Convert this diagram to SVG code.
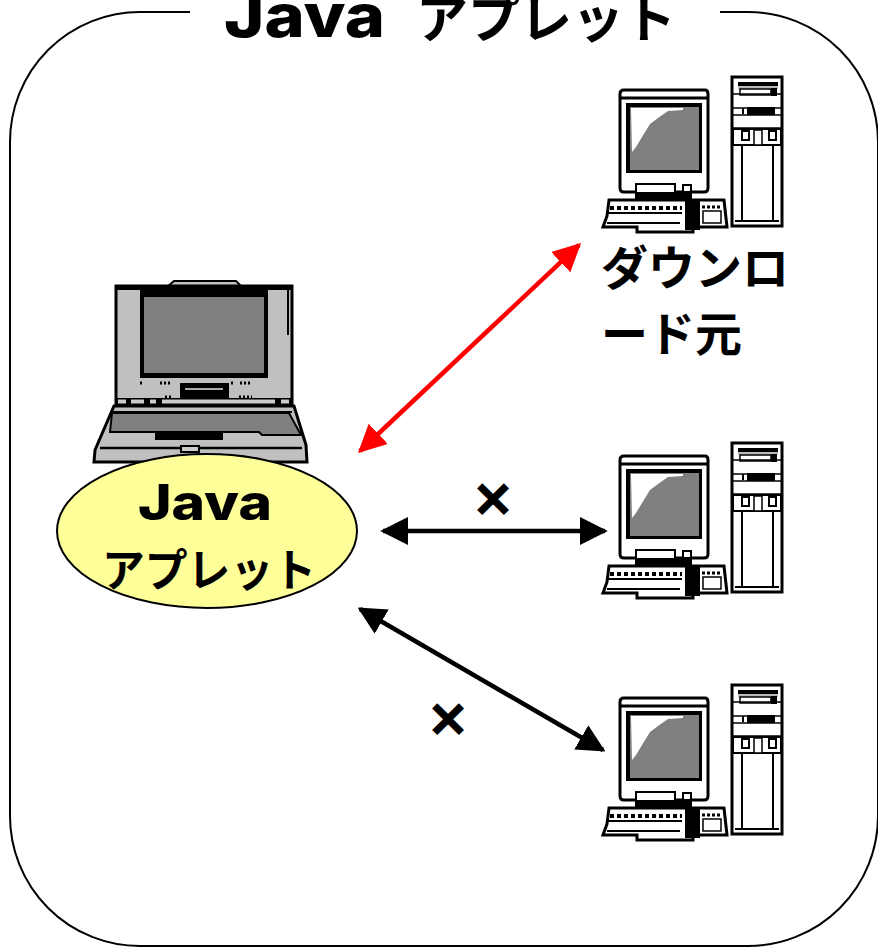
<svg xmlns="http://www.w3.org/2000/svg" width="878" height="948" viewBox="0 0 878 948">
<style>
text{font-family:"Noto Sans CJK JP",sans-serif;font-weight:700;fill:#000}
.lat{font-family:Inter,"DejaVu Sans",sans-serif;font-weight:800}
.x{stroke:#000;stroke-width:3}
.s{stroke:#000;stroke-width:3;fill:#fff}
.t{stroke:#000;stroke-width:2;fill:none}
.c{stroke-width:4.500;fill:none}
</style>
<defs>
<filter id="soft" x="-5%" y="-5%" width="110%" height="110%"><feGaussianBlur stdDeviation="0.6"/></filter>
<marker id="ak" viewBox="0 0 10 10" refX="9" refY="5" markerWidth="6.2" markerHeight="6.2" orient="auto-start-reverse"><path d="M0 0L10 5L0 10Z" fill="#000"/></marker>
<marker id="ar" viewBox="0 0 10 10" refX="9" refY="5" markerWidth="6.2" markerHeight="6.2" orient="auto-start-reverse"><path d="M0 0L10 5L0 10Z" fill="#f00"/></marker>
<g id="pc" filter="url(#soft)">
<rect class="s" x="732" y="77" width="50" height="149"/>
<rect x="738" y="82" width="40" height="4" fill="#000"/><rect x="738" y="86" width="40" height="3" fill="#bbb"/>
<rect x="740" y="89" width="31" height="6" fill="#fff" stroke="#000" stroke-width="1.500"/><rect x="771" y="88" width="6" height="8" fill="#000"/>
<path d="M733 94H781M733 108H781M733 115H781M733 128H781" class="t" style="stroke-width:1.500"/>
<rect x="747" y="107" width="28" height="8" fill="#000"/><rect x="742" y="108" width="2" height="6" fill="#000"/>
<path d="M733 129H781V145H733Z" fill="#fff" stroke="#000" stroke-width="2"/>
<path d="M742 131H749V140H742ZM769 131H776V140H769Z" fill="#fff" stroke="#000" stroke-width="2"/><path d="M754 130H762V145H754Z" fill="#fff" stroke="#000" stroke-width="1.500"/>
<path d="M742 145V221M773 145V221M735 221H779" class="t"/>
<path d="M620 94Q620 90 624 90H705Q708 90 708 94V188Q708 192 704 192H624Q620 192 620 188Z" class="s"/>
<path d="M620 98H708" stroke="#000" stroke-width="3"/>
<rect x="626" y="103" width="76" height="70" fill="#000"/>
<rect x="630" y="107" width="69" height="63" fill="#808080"/>
<path d="M631 108H683V110L668 111L658 118L650 124L642 137L636 147L632 152Z" fill="#fff"/>
<path d="M636 184H675V193H636Z" fill="#fff" stroke="#000" stroke-width="2"/><rect x="683" y="185" width="8" height="7" fill="#fff" stroke="#000" stroke-width="2"/>
<rect x="635" y="193" width="57" height="6" fill="#000"/>
<path d="M609 200H724L727 227H693V232H637V227H603L607 216Z" fill="#fff" stroke="#000" stroke-width="3"/>
<path d="M610 208H682" stroke="#000" stroke-width="4" stroke-dasharray="4 3" fill="none"/>
<path d="M607 223H680M608 213H682" class="t"/>
<rect x="685" y="201" width="15" height="29" fill="#000"/>
<path d="M702 207H722" stroke="#000" stroke-width="3" stroke-dasharray="3 2"/>
<rect x="703" y="211" width="18" height="12" fill="#fff" stroke="#000" stroke-width="1.500"/>
</g>
</defs>
<path d="M190 12H140A130 130 0 0 0 10 142V816A130 130 0 0 0 140 946H748A130 130 0 0 0 878 816V142A130 130 0 0 0 748 12H720" fill="none" stroke="#000" stroke-width="2"/>
<text id="title" class="lat" x="224" y="37" font-size="60" textLength="161" lengthAdjust="spacingAndGlyphs">Java</text>
<text id="title-kana" x="416" y="38" font-size="52">アプレット</text>
<g id="server-1"><use href="#pc"/></g>
<g id="server-2"><use href="#pc" y="366"/></g>
<g id="server-3"><use href="#pc" y="608"/></g>
<g id="laptop" filter="url(#soft)">
<path d="M167 287L174 281H236L242 287Z" fill="#c0c0c0" stroke="#000" stroke-width="2"/>
<rect x="116" y="286" width="176" height="120" fill="#c0c0c0" stroke="#000" stroke-width="3"/>
<rect x="116" y="286" width="176" height="4" fill="#000"/>
<path d="M288 288V335" stroke="#000" stroke-width="2"/>
<rect x="140" y="288" width="128" height="90" fill="#000"/>
<rect x="144" y="297" width="120" height="76" fill="#808080"/>
<rect x="180" y="383" width="49" height="15" fill="#000"/><rect x="185" y="388" width="38" height="2" fill="#aaa"/>
<path d="M140 383H142M160 383H170M231 383H233M240 383H252M165 397H172M239 397H252" stroke="#000" stroke-width="3" stroke-dasharray="2 2" fill="none"/>
<rect x="116" y="398" width="176" height="8" fill="#000"/><path d="M118 401.500H126M131 401.500H144M150 401.500H156M162 401.500H275M281 401.500H289" stroke="#ccc" stroke-width="4"/>
<path d="M114 406H294L306 445L307 462H94L95 450Z" fill="#c0c0c0" stroke="#000" stroke-width="3"/>
<path d="M112 412H292" stroke="#000" stroke-width="2"/>
<path d="M112 413H289L301 435H262L259 432H110Z" fill="#808080" stroke="#000" stroke-width="2"/>
<rect x="155" y="433" width="68" height="7" fill="#000"/>
<path d="M100 448H302" stroke="#000" stroke-width="2.500"/><rect x="181" y="446" width="18" height="6" fill="#ccc" stroke="#000" stroke-width="2"/>
</g>
<g id="applet">
<ellipse cx="207" cy="531" rx="150" ry="77" fill="#ffff99" stroke="#000" stroke-width="2"/>
<text class="lat" x="138" y="520" font-size="49" textLength="134" lengthAdjust="spacingAndGlyphs">Java</text>
<text x="102" y="587" font-size="45" textLength="214" lengthAdjust="spacingAndGlyphs">アプレット</text>
</g>
<g id="connectors">
<path class="c" stroke="#f00" marker-start="url(#ar)" marker-end="url(#ar)" d="M360 451L579 245"/>
<path class="c" stroke="#000" marker-start="url(#ak)" marker-end="url(#ak)" d="M383 531H605"/>
<path class="c" stroke="#000" marker-start="url(#ak)" marker-end="url(#ak)" d="M360 609L603 750"/>
</g>
<g id="labels">
<text x="601" y="285" font-size="47">ダウンロ</text>
<text x="601" y="351" font-size="47">ード元</text>
<text class="x" x="493" y="515" font-size="42" text-anchor="middle">×</text>
<text class="x" x="448" y="735" font-size="42" text-anchor="middle">×</text>
</g>
</svg>
